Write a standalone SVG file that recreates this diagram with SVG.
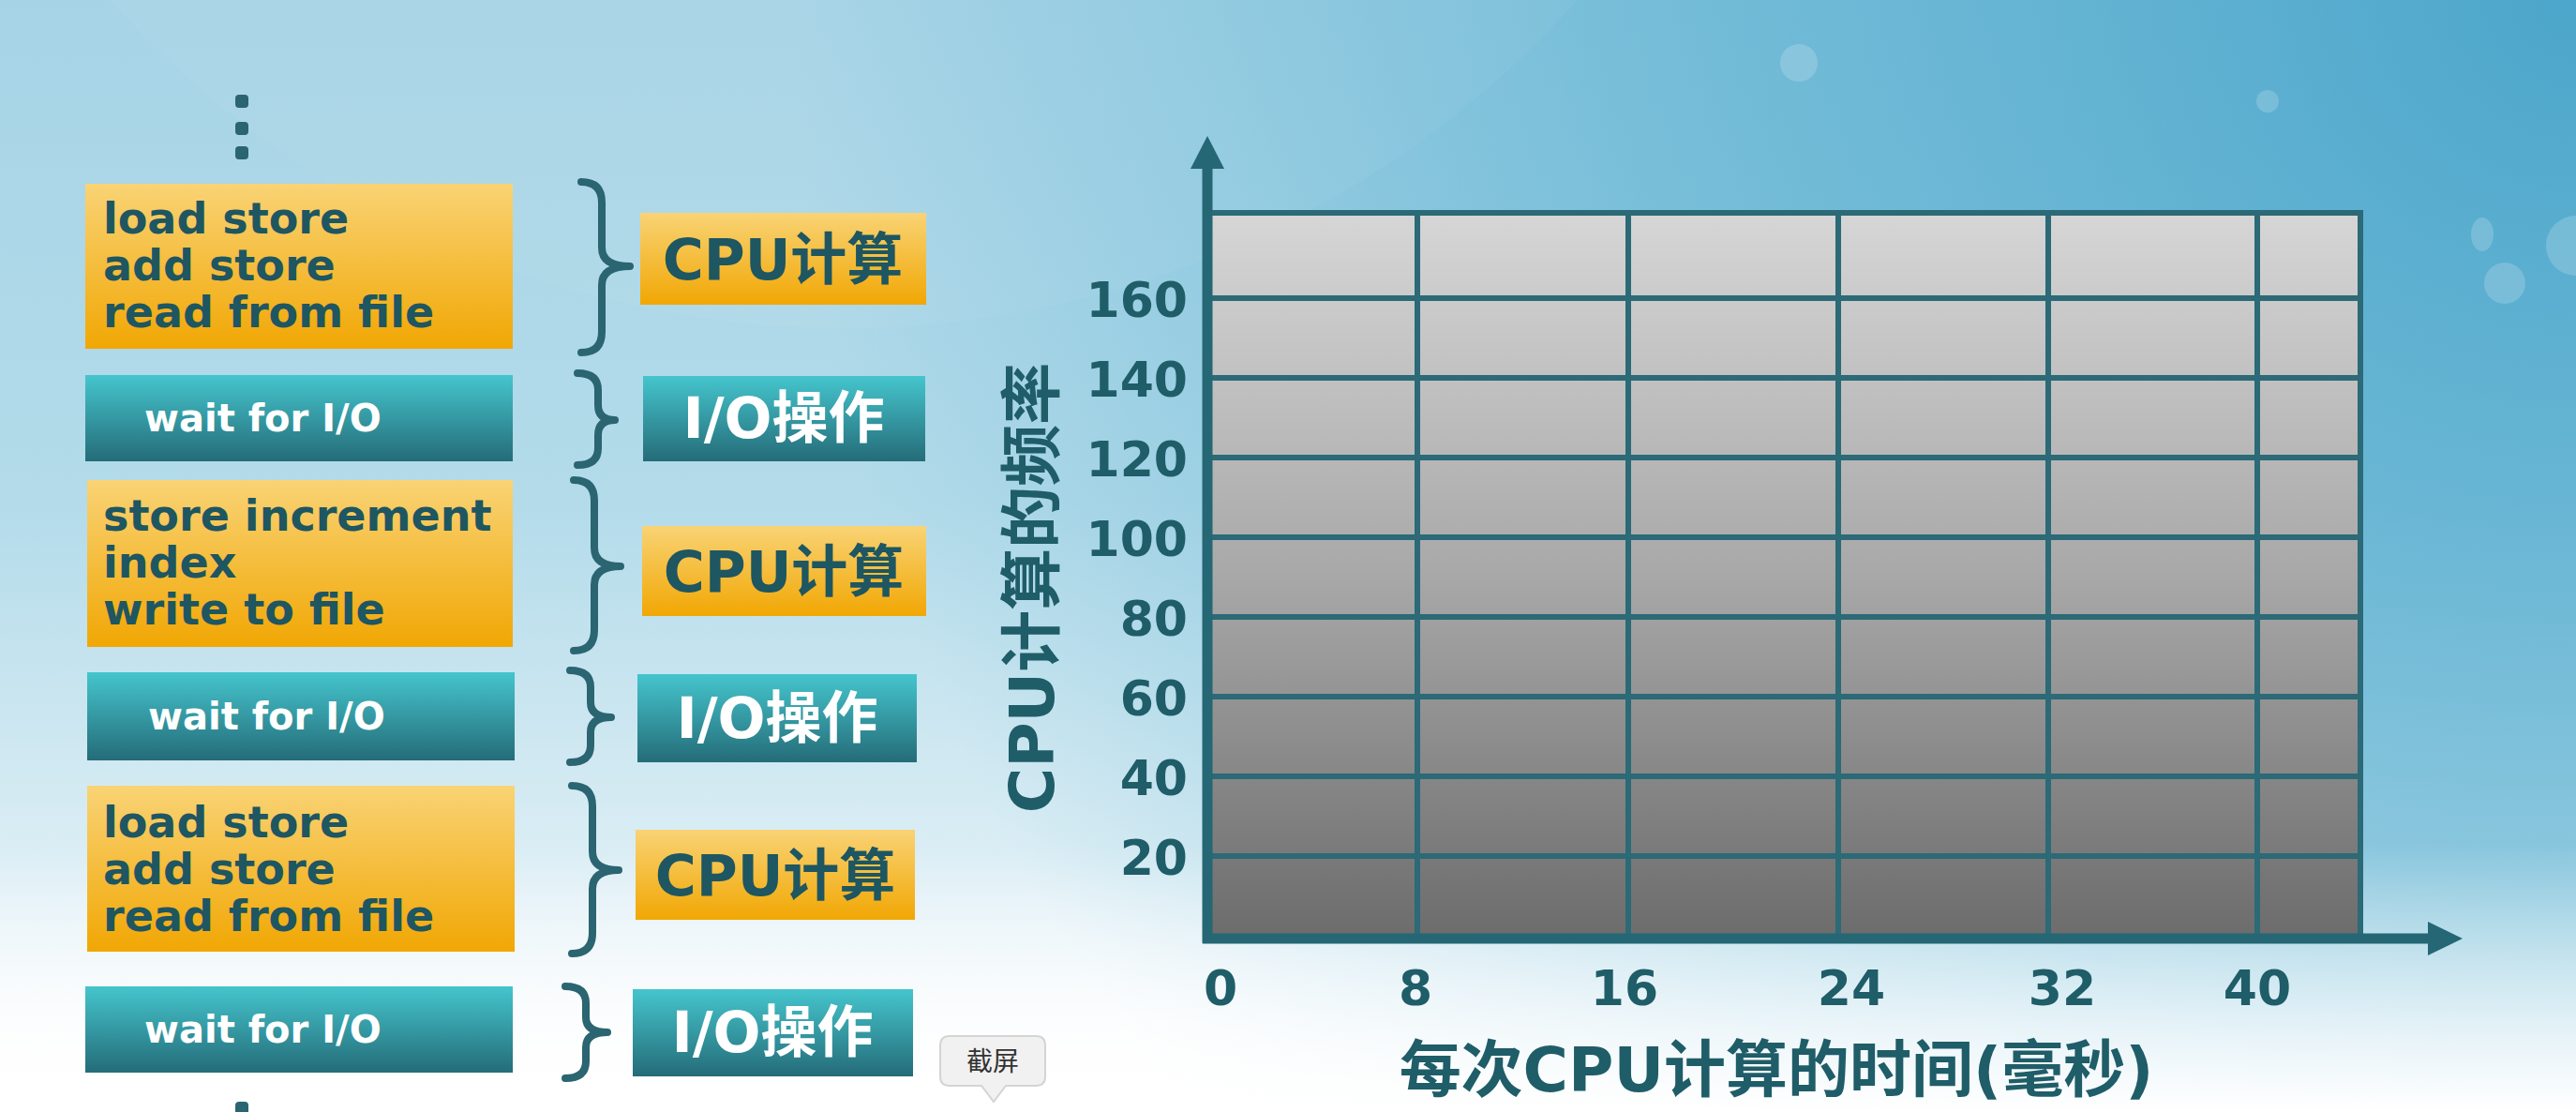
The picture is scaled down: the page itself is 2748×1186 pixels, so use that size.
<svg xmlns="http://www.w3.org/2000/svg" width="2748" height="1186" viewBox="0 0 2748 1186">
<defs>
  <linearGradient id="bgV" x1="0" y1="0" x2="0" y2="1">
    <stop offset="0" stop-color="#a6d4e6"/>
    <stop offset="0.45" stop-color="#b3dbea"/>
    <stop offset="0.78" stop-color="#dceef5"/>
    <stop offset="0.92" stop-color="#f6fafc"/>
    <stop offset="1" stop-color="#ffffff"/>
  </linearGradient>
  <radialGradient id="bgTR" cx="2748" cy="0" r="1900" gradientUnits="userSpaceOnUse">
    <stop offset="0" stop-color="#3c9ec6" stop-opacity="0.85"/>
    <stop offset="0.5" stop-color="#4aa8cc" stop-opacity="0.55"/>
    <stop offset="1" stop-color="#4aa8cc" stop-opacity="0"/>
  </radialGradient>
  <linearGradient id="bgBottom" x1="0" y1="0" x2="0" y2="1">
    <stop offset="0" stop-color="#ffffff" stop-opacity="0"/>
    <stop offset="1" stop-color="#ffffff" stop-opacity="1"/>
  </linearGradient>
  <linearGradient id="orange" x1="0" y1="0" x2="0" y2="1">
    <stop offset="0" stop-color="#f9d375"/>
    <stop offset="1" stop-color="#f1a704"/>
  </linearGradient>
  <linearGradient id="teal" x1="0" y1="0" x2="0" y2="1">
    <stop offset="0" stop-color="#45c5cd"/>
    <stop offset="1" stop-color="#246c78"/>
  </linearGradient>
  <linearGradient id="gridFill" x1="0" y1="0" x2="0" y2="1">
    <stop offset="0" stop-color="#d6d6d6"/>
    <stop offset="0.5" stop-color="#a8a8a8"/>
    <stop offset="1" stop-color="#6c6c6c"/>
  </linearGradient>
  <style>
    .box-o { fill: url(#orange); }
    .box-t { fill: url(#teal); }
    .code { font-family: "DejaVu Sans", sans-serif; font-weight: bold; font-size: 46px; fill: #1e5661; }
    .wait { font-family: "DejaVu Sans", sans-serif; font-weight: bold; font-size: 40px; fill: #ffffff; }
    .lab-cpu { font-family: "DejaVu Sans", "Noto Sans CJK SC", sans-serif; font-weight: bold; font-size: 60px; fill: #1e5661; text-anchor: middle; }
    .lab-io { font-family: "DejaVu Sans", "Noto Sans CJK SC", sans-serif; font-weight: bold; font-size: 60px; fill: #ffffff; text-anchor: middle; }
    .brace { fill: none; stroke: #2a6571; stroke-width: 8; stroke-linecap: round; stroke-linejoin: round; }
    .grid { stroke: #2b6a76; stroke-width: 6; fill: none; }
    .axis { stroke: #256774; stroke-width: 11; fill: none; }
    .arrow { fill: #256774; }
    .num { font-family: "DejaVu Sans", sans-serif; font-weight: bold; font-size: 52px; fill: #1f5d68; }
    .title { font-family: "DejaVu Sans", "Noto Sans CJK SC", sans-serif; font-weight: bold; fill: #1f5d68; }
    .dot { fill: #2a6571; }
  </style>
</defs>

<!-- background -->
<rect x="0" y="0" width="2748" height="1186" fill="url(#bgV)"/>
<rect x="0" y="0" width="2748" height="1186" fill="url(#bgTR)"/>
<circle cx="900" cy="-700" r="1050" fill="#ffffff" opacity="0.04"/>
<rect x="0" y="900" width="2748" height="286" fill="url(#bgBottom)"/>
<g fill="#ffffff" opacity="0.18">
  <circle cx="1919" cy="67" r="20"/>
  <circle cx="2419" cy="108" r="12"/>
  <circle cx="2672" cy="302" r="22"/>
  <circle cx="2748" cy="262" r="32"/>
  <ellipse cx="2648" cy="250" rx="12" ry="18"/>
</g>

<!-- ellipsis dots -->
<g id="dots-top">
  <rect class="dot" x="251" y="101" width="14" height="14" rx="4"/>
  <rect class="dot" x="251" y="130" width="14" height="14" rx="4"/>
  <rect class="dot" x="251" y="156" width="14" height="14" rx="4"/>
</g>
<g id="dots-bottom">
  <rect class="dot" x="251" y="1175" width="14" height="14" rx="4"/>
</g>

<!-- instruction boxes -->
<g id="box1">
  <rect class="box-o" x="91" y="196" width="456" height="176"/>
  <text class="code" x="110" y="249">load store</text>
  <text class="code" x="110" y="299">add store</text>
  <text class="code" x="110" y="349">read from file</text>
</g>
<g id="box2">
  <rect class="box-t" x="91" y="400" width="456" height="92"/>
  <text class="wait" x="154" y="460">wait for I/O</text>
</g>
<g id="box3">
  <rect class="box-o" x="93" y="512" width="454" height="178"/>
  <text class="code" x="110" y="566">store increment</text>
  <text class="code" x="110" y="616">index</text>
  <text class="code" x="110" y="666">write to file</text>
</g>
<g id="box4">
  <rect class="box-t" x="93" y="717" width="456" height="94"/>
  <text class="wait" x="158" y="778">wait for I/O</text>
</g>
<g id="box5">
  <rect class="box-o" x="93" y="838" width="456" height="177"/>
  <text class="code" x="110" y="893">load store</text>
  <text class="code" x="110" y="943">add store</text>
  <text class="code" x="110" y="993">read from file</text>
</g>
<g id="box6">
  <rect class="box-t" x="91" y="1052" width="456" height="92"/>
  <text class="wait" x="154" y="1112">wait for I/O</text>
</g>

<!-- category labels -->
<g id="label1">
  <rect class="box-o" x="683" y="227" width="305" height="98"/>
  <text class="lab-cpu" x="835" y="298">CPU计算</text>
</g>
<g id="label2">
  <rect class="box-t" x="686" y="401" width="301" height="91"/>
  <text class="lab-io" x="836" y="467">I/O操作</text>
</g>
<g id="label3">
  <rect class="box-o" x="685" y="561" width="303" height="96"/>
  <text class="lab-cpu" x="836" y="631">CPU计算</text>
</g>
<g id="label4">
  <rect class="box-t" x="680" y="719" width="298" height="94"/>
  <text class="lab-io" x="829" y="787">I/O操作</text>
</g>
<g id="label5">
  <rect class="box-o" x="678" y="885" width="298" height="96"/>
  <text class="lab-cpu" x="827" y="955">CPU计算</text>
</g>
<g id="label6">
  <rect class="box-t" x="675" y="1055" width="299" height="93"/>
  <text class="lab-io" x="824" y="1122">I/O操作</text>
</g>

<!-- connectors: braces -->
<g id="connectors">
  <path class="brace" d="M620,194 Q642,194 642,216 L642,264 Q642,284 672,284 Q642,284 642,304 L642,354 Q642,376 620,376"/>
  <path class="brace" d="M616,398 Q638,398 638,416 L638,432 Q638,448 656,448 Q638,448 638,464 L638,478 Q638,496 616,496"/>
  <path class="brace" d="M612,512 Q634,512 634,534 L634,584 Q634,604 662,604 Q634,604 634,624 L634,672 Q634,694 612,694"/>
  <path class="brace" d="M608,715 Q630,715 630,733 L630,749 Q630,765 652,765 Q630,765 630,781 L630,795 Q630,813 608,813"/>
  <path class="brace" d="M610,838 Q632,838 632,860 L632,908 Q632,928 660,928 Q632,928 632,948 L632,995 Q632,1017 610,1017"/>
  <path class="brace" d="M603,1052 Q625,1052 625,1070 L625,1085 Q625,1101 648,1101 Q625,1101 625,1117 L625,1132 Q625,1150 603,1150"/>
</g>

<!-- chart -->
<g id="chart-grid">
  <rect x="1288" y="227" width="1230" height="774" fill="url(#gridFill)"/>
  <g class="grid">
    <line x1="1288" y1="227" x2="2518" y2="227"/>
    <line x1="1288" y1="318" x2="2518" y2="318"/>
    <line x1="1288" y1="403" x2="2518" y2="403"/>
    <line x1="1288" y1="488" x2="2518" y2="488"/>
    <line x1="1288" y1="573" x2="2518" y2="573"/>
    <line x1="1288" y1="658" x2="2518" y2="658"/>
    <line x1="1288" y1="743" x2="2518" y2="743"/>
    <line x1="1288" y1="828" x2="2518" y2="828"/>
    <line x1="1288" y1="913" x2="2518" y2="913"/>
    <line x1="1512" y1="227" x2="1512" y2="1001"/>
    <line x1="1737" y1="227" x2="1737" y2="1001"/>
    <line x1="1961" y1="227" x2="1961" y2="1001"/>
    <line x1="2185" y1="227" x2="2185" y2="1001"/>
    <line x1="2408" y1="227" x2="2408" y2="1001"/>
    <line x1="2518" y1="224" x2="2518" y2="1001"/>
  </g>
</g>
<g id="axes">
  <line class="axis" x1="1288" y1="1006" x2="1288" y2="172"/>
  <polygon class="arrow" points="1288,145 1270,180 1306,180"/>
  <line class="axis" x1="1283" y1="1001" x2="2596" y2="1001"/>
  <polygon class="arrow" points="2627,1001 2590,983 2590,1019"/>
</g>
<g id="y-labels" class="num" text-anchor="end">
  <text x="1267" y="338">160</text>
  <text x="1267" y="423">140</text>
  <text x="1267" y="508">120</text>
  <text x="1267" y="593">100</text>
  <text x="1267" y="678">80</text>
  <text x="1267" y="763">60</text>
  <text x="1267" y="848">40</text>
  <text x="1267" y="933">20</text>
</g>
<g id="x-labels" class="num" text-anchor="middle">
  <text x="1302" y="1072">0</text>
  <text x="1510" y="1072">8</text>
  <text x="1733" y="1072">16</text>
  <text x="1975" y="1072">24</text>
  <text x="2200" y="1072">32</text>
  <text x="2408" y="1072">40</text>
</g>
<g id="y-title">
  <text class="title" font-size="66" text-anchor="middle" transform="translate(1124,627) rotate(-90)">CPU计算的频率</text>
</g>
<g id="x-title">
  <text class="title" font-size="66" text-anchor="middle" x="1895" y="1164">每次CPU计算的时间(毫秒)</text>
</g>

<!-- tooltip -->
<g id="tooltip">
  <path d="M1013,1105 H1105 Q1115,1105 1115,1115 V1148 Q1115,1158 1105,1158 H1073 L1060,1175 L1047,1158 H1013 Q1003,1158 1003,1148 V1115 Q1003,1105 1013,1105 Z" fill="#f1f1f1" stroke="#d4d4d4" stroke-width="2"/>
  <text x="1059" y="1142" font-family="Noto Sans CJK SC, sans-serif" font-size="28" fill="#333333" text-anchor="middle">截屏</text>
</g>
</svg>
